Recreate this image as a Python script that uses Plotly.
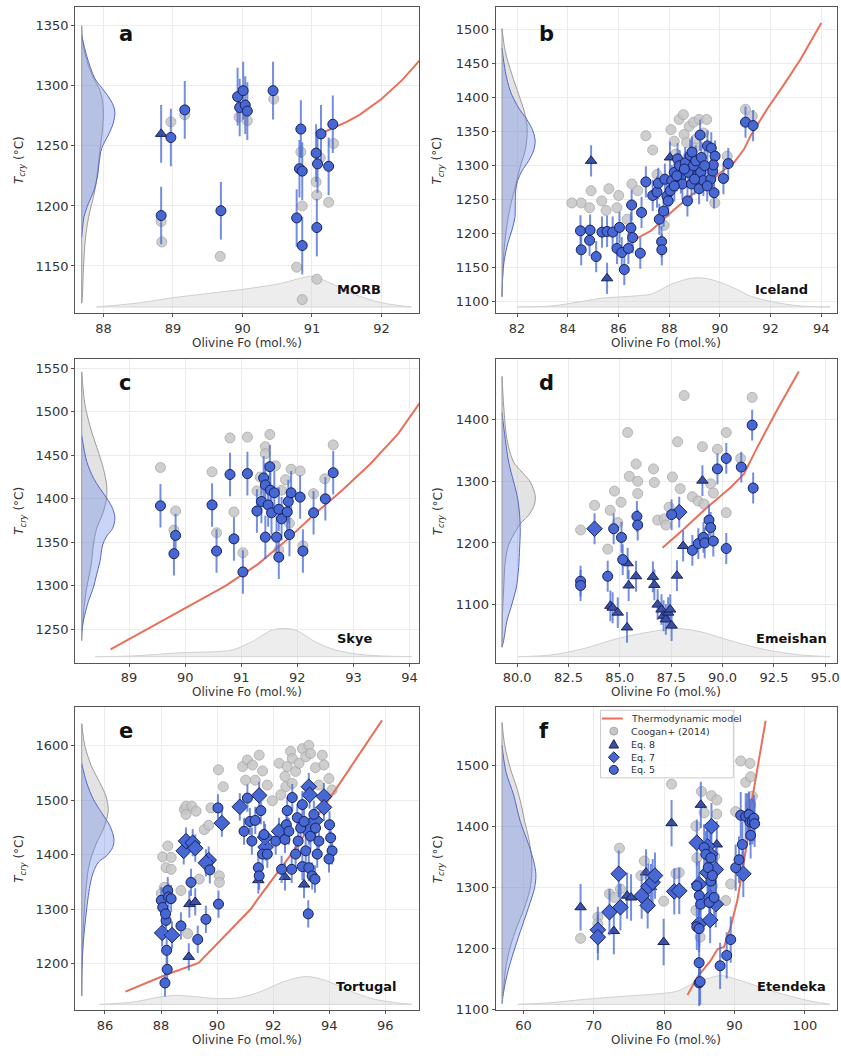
import plotly.graph_objects as go

W, H = 841, 1063

# ---------------- DATA ----------------
# Panel a : MORB
A_EQ5_FO = [88.83, 88.97, 89.17, 89.69, 89.93, 89.96, 90.01, 90.04, 90.07, 90.44, 90.84, 90.82, 90.86, 90.78, 90.86, 91.06, 91.08, 91.13, 91.07, 91.24, 91.30]
A_EQ5_T = [1192, 1257, 1280, 1196, 1291, 1282, 1296, 1284, 1279, 1296, 1264, 1231, 1229, 1190, 1167, 1244, 1235, 1260, 1182, 1233, 1268]
A_EQ7_FO, A_EQ7_T = [], []
A_EQ8_FO = [88.83]
A_EQ8_T = [1260]
A_COO_FO = [88.83, 88.84, 88.97, 89.17, 89.68, 89.95, 90.07, 90.45, 90.78, 90.84, 90.86, 90.86, 91.06, 91.07, 91.07, 91.12, 91.24, 91.31]
A_COO_T = [1187, 1170, 1270, 1276, 1158, 1274, 1271, 1289, 1149, 1245, 1200, 1122, 1220, 1209, 1139, 1240, 1203, 1252]
A_MODEL_FO = [91.19, 91.5, 91.69, 92.0, 92.3, 92.53, 92.8]
A_MODEL_T = [1262, 1270, 1276, 1289, 1305, 1320, 1336]
A_KDE_G_T = [1350, 1333, 1317, 1306, 1296, 1287, 1278, 1265, 1251, 1235, 1218, 1207, 1196, 1185, 1169, 1147, 1125, 1119]
A_KDE_G_D = [0, 1.7, 6.7, 12.3, 18.3, 21, 21.7, 21, 19, 16.7, 14.3, 11.7, 8.3, 5.7, 3.3, 1.7, 0.7, 0]
A_KDE_B_T = [1342, 1325, 1306, 1295, 1285, 1278, 1269, 1259, 1248, 1237, 1224, 1213, 1202, 1191, 1180, 1174]
A_KDE_B_D = [0, 5, 13.3, 23.3, 31, 33.3, 31.7, 26.7, 20, 17.7, 15.7, 12.3, 6.7, 2.3, 0.7, 0]
A_KDE_FO = [87.9, 88.5, 89.0, 89.5, 90.0, 90.5, 90.9, 91.0, 91.3, 91.6, 92.0, 92.43]
A_KDE_FO_D = [0, 4, 9.3, 13.5, 17.7, 23, 30, 31, 23, 13, 4.3, 0]

# Panel b : Iceland
B_EQ5_FO = [84.50, 84.53, 84.86, 84.88, 85.12, 85.35, 85.55, 85.77, 85.94, 86.04, 86.13, 86.23, 86.39, 86.49, 86.56,
            86.52, 86.86, 86.91, 87.08, 87.35, 87.52, 87.57, 87.61, 87.70, 87.71, 87.78, 87.83, 87.91, 87.96, 88.04,
            88.10, 88.20, 88.33, 88.41, 88.46, 88.52, 88.63, 88.72, 88.75, 88.83, 88.88, 88.96, 89.05, 89.11, 89.18,
            89.22, 89.24, 89.27, 89.35, 89.51, 89.66, 89.64, 89.72, 89.77, 89.81, 89.74, 90.14, 90.33, 91.01, 91.31,
            88.30, 88.60, 89.00, 89.40, 88.90, 89.50, 88.20]
B_EQ5_T = [1204, 1176, 1190, 1205, 1166, 1202, 1203, 1202, 1178, 1209, 1172, 1147, 1178, 1208, 1194,
           1242, 1171, 1231, 1276, 1256, 1261, 1274, 1221, 1188, 1176, 1233, 1280, 1255, 1248, 1263,
           1278, 1290, 1310, 1300, 1282, 1273, 1304, 1248, 1290, 1315, 1273, 1300, 1307, 1285, 1266,
           1345, 1290, 1312, 1278, 1329, 1326, 1280, 1292, 1260, 1314, 1301, 1281, 1303, 1364, 1359,
           1285, 1295, 1280, 1300, 1320, 1270, 1270]
B_EQ7_FO, B_EQ7_T = [], []
B_EQ8_FO = [84.92, 85.55, 88.03]
B_EQ8_T = [1307, 1134, 1312]
B_COO_FO = [84.16, 84.53, 84.86, 84.92, 85.34, 85.62, 85.51, 86.01, 85.94, 86.34, 86.53, 86.76, 87.08, 87.35, 87.52,
            87.80, 88.07, 88.20, 88.39, 88.56, 88.59, 88.79, 88.96, 89.18, 89.48, 89.35, 89.05, 88.69, 89.80, 90.29,
            91.01, 91.28, 89.00, 88.26]
B_COO_T = [1245, 1245, 1238, 1263, 1248, 1266, 1234, 1256, 1238, 1221, 1273, 1263, 1344, 1323, 1287,
           1212, 1353, 1336, 1368, 1375, 1346, 1358, 1364, 1368, 1368, 1348, 1339, 1334, 1245, 1314,
           1383, 1373, 1326, 1317]
B_MODEL_FO = [86.69, 87.28, 88.07, 88.85, 89.51, 90.03, 90.55, 90.95, 91.21, 91.86, 92.52, 93.17, 94.0]
B_MODEL_T = [1192, 1204, 1231, 1256, 1273, 1290, 1304, 1324, 1344, 1383, 1419, 1456, 1510]
B_KDE_G_T = [1502, 1468, 1434, 1405, 1380, 1361, 1341, 1322, 1302, 1283, 1263, 1244, 1224, 1205, 1180, 1151, 1107]
B_KDE_G_D = [0, 3.3, 10, 16.7, 22.3, 25, 25, 23.3, 19, 15.7, 12.3, 9, 6.3, 4.3, 2.3, 1, 0]
B_KDE_B_T = [1473, 1439, 1410, 1385, 1368, 1351, 1336, 1322, 1307, 1292, 1278, 1263, 1244, 1224, 1205, 1185, 1161, 1136, 1107]
B_KDE_B_D = [0, 3.3, 8.3, 16.7, 25, 31, 33.3, 31.7, 26.7, 20, 15.7, 13.7, 13.3, 13, 10, 5.7, 2.3, 0.7, 0]
B_KDE_FO = [82.0, 83.35, 84.66, 85.3, 86.6, 87.3, 88.07, 88.98, 89.64, 90.55, 91.2, 92.26, 93.17, 94.35]
B_KDE_FO_D = [0, 1, 6, 8.7, 11, 13, 22.7, 29.3, 27.7, 19.3, 11, 4.3, 1, 0]

# Panel c : Skye
C_EQ5_FO = [89.56, 89.83, 89.80, 90.48, 90.56, 90.80, 90.87, 91.11, 91.03, 91.28, 91.36, 91.40, 91.43, 91.43, 91.48,
            91.51, 91.52, 91.54, 91.59, 91.63, 91.67, 91.67, 91.72, 91.82, 91.84, 91.86, 91.89, 92.05, 92.10, 92.29,
            92.50, 92.64]
C_EQ5_T = [1392, 1358, 1337, 1393, 1340, 1428, 1354, 1429, 1316, 1386, 1397, 1424, 1416, 1356, 1393,
           1437, 1410, 1384, 1407, 1356, 1333, 1388, 1377, 1385, 1397, 1359, 1407, 1402, 1340, 1384,
           1400, 1430]
C_EQ7_FO, C_EQ7_T = [], []
C_EQ8_FO, C_EQ8_T = [], []
C_COO_FO = [89.56, 89.83, 89.80, 90.48, 90.56, 90.80, 90.87, 91.11, 91.03, 91.51, 91.43, 91.43, 91.34, 91.28, 91.61,
            91.67, 91.79, 91.89, 92.05, 92.10, 92.29, 92.49, 92.64, 91.72, 91.86]
C_COO_T = [1436, 1386, 1364, 1431, 1361, 1470, 1385, 1471, 1338, 1474, 1460, 1452, 1425, 1409, 1438,
           1341, 1422, 1434, 1432, 1346, 1406, 1423, 1462, 1410, 1372]
C_MODEL_FO = [88.67, 90.72, 91.3, 91.8, 92.3, 92.8, 93.3, 93.8, 94.3]
C_MODEL_T = [1227, 1300, 1325, 1352, 1382, 1410, 1440, 1475, 1521]
C_KDE_G_T = [1546, 1508, 1477, 1454, 1435, 1416, 1401, 1385, 1366, 1347, 1328, 1313, 1298, 1275, 1256, 1237]
C_KDE_G_D = [0, 3.3, 10, 16.7, 21.7, 25, 25, 21.7, 15, 11.7, 10, 7.7, 5, 2.3, 1, 0]
C_KDE_B_T = [1473, 1443, 1424, 1412, 1401, 1389, 1378, 1366, 1357, 1347, 1328, 1313, 1298, 1282, 1263, 1248]
C_KDE_B_D = [0, 5, 11.7, 18.3, 25, 31, 33.3, 31, 25, 21, 18.3, 15, 11.7, 6.7, 2.3, 0]
C_KDE_FO = [88.4, 89.06, 89.95, 90.54, 90.84, 91.19, 91.55, 91.73, 91.97, 92.32, 92.68, 93.21, 94.04]
C_KDE_FO_D = [0, 0.7, 4, 5, 6.7, 15, 26.7, 28.3, 26.7, 15, 6.7, 1.7, 0]

# Panel d : Emeishan
D_EQ5_FO = [83.09, 83.09, 84.41, 84.70, 85.08, 85.14, 85.83, 85.87, 87.52, 88.53, 88.82, 89.07, 89.13, 89.34, 89.42,
            89.55, 89.75, 90.18, 90.18, 90.91, 91.44, 91.49]
D_EQ5_T = [1138, 1131, 1146, 1223, 1209, 1173, 1243, 1229, 1246, 1188, 1199, 1209, 1200, 1237, 1225,
           1203, 1320, 1337, 1191, 1323, 1391, 1289]
D_EQ7_FO = [83.77, 87.89]
D_EQ7_T = [1223, 1250]
D_EQ8_FO = [84.54, 84.65, 84.90, 85.35, 85.38, 85.43, 85.79, 86.61, 86.68, 86.84, 87.03, 87.13, 87.24, 87.35, 87.45,
            87.52, 87.78, 88.08, 89.02]
D_EQ8_T = [1098, 1095, 1087, 1063, 1167, 1131, 1146, 1145, 1132, 1100, 1092, 1082, 1076, 1087, 1092,
           1066, 1147, 1195, 1301]
D_COO_FO = [83.09, 83.77, 84.41, 84.53, 84.74, 85.06, 84.90, 85.38, 85.46, 85.79, 85.87, 85.87, 86.64, 86.68, 86.84,
            87.16, 87.24, 87.56, 87.81, 87.94, 87.40, 88.13, 88.53, 88.81, 89.02, 89.10, 89.42, 89.55, 89.75, 90.18,
            90.18, 90.88, 91.44]
D_COO_T = [1221, 1261, 1190, 1253, 1284, 1266, 1233, 1379, 1308, 1328, 1300, 1280, 1320, 1298, 1237,
           1239, 1229, 1307, 1364, 1288, 1258, 1439, 1275, 1268, 1356, 1263, 1296, 1281, 1352, 1379,
           1249, 1337, 1436]
D_MODEL_FO = [87.08, 88.13, 89.26, 90.39, 91.04, 91.69, 92.66, 93.71]
D_MODEL_T = [1192, 1223, 1258, 1290, 1312, 1355, 1416, 1478]
D_KDE_G_T = [1470, 1422, 1368, 1331, 1315, 1299, 1277, 1261, 1245, 1234, 1218, 1197, 1170, 1127, 1085, 1031]
D_KDE_G_D = [0, 1.7, 5, 11.7, 20, 28.3, 33.3, 32.3, 26.7, 20, 13.3, 6.7, 3.3, 1.7, 0.5, 0]
D_KDE_B_T = [1411, 1368, 1331, 1299, 1272, 1245, 1218, 1192, 1160, 1127, 1101, 1074, 1042, 1031]
D_KDE_B_D = [0, 3.3, 6.7, 11.7, 15.7, 17.7, 18.3, 17.7, 16.7, 14.3, 10, 5, 1.7, 0]
D_KDE_FO = [80.05, 81.66, 83.28, 84.9, 86.5, 87.8, 88.94, 90.55, 92.17, 93.8, 95.24]
D_KDE_FO_D = [0, 1.7, 8.3, 18.3, 25, 28.3, 25, 15, 6.7, 1.7, 0]

# Panel e : Tortugal
E_EQ5_FO = [88.01, 88.06, 88.24, 88.27, 88.18, 88.20, 88.22, 88.14, 88.36, 88.16, 88.71, 89.07, 89.31, 89.60, 89.74,
            90.03, 90.05, 90.96, 91.08, 91.17, 91.24, 91.36, 91.47, 91.50, 91.56, 91.62, 91.67, 91.79, 92.09, 92.30,
            92.42, 92.47, 92.50, 92.56, 92.66, 92.68, 92.80, 92.86, 92.89, 92.98, 93.04, 93.04, 93.10, 93.16, 93.25,
            93.27, 93.33, 93.39, 93.45, 93.49, 93.51, 93.57, 93.63, 94.01, 94.05, 94.10, 93.99]
E_EQ5_T = [1316, 1303, 1334, 1322, 1279, 1224, 1189, 1164, 1319, 1291, 1269, 1349, 1244, 1281, 1372,
           1486, 1309, 1443, 1504, 1461, 1425, 1463, 1376, 1361, 1481, 1401, 1437, 1401, 1425, 1373,
           1428, 1455, 1481, 1443, 1373, 1505, 1401, 1468, 1425, 1449, 1492, 1378, 1461, 1407, 1291,
           1376, 1434, 1361, 1474, 1355, 1449, 1401, 1425, 1455, 1431, 1407, 1392]
E_EQ7_FO = [88.04, 88.39, 88.81, 88.89, 89.13, 89.22, 89.70, 89.60, 90.17, 90.81, 91.50, 91.73, 91.71, 92.21, 93.27,
            93.30, 93.81, 93.81, 93.51, 93.27]
E_EQ7_T = [1256, 1252, 1407, 1425, 1422, 1412, 1390, 1385, 1458, 1488, 1509, 1414, 1432, 1443, 1525,
           1510, 1507, 1487, 1463, 1443]
E_EQ8_FO = [89.01, 89.22, 88.99, 91.47, 92.42, 93.10]
E_EQ8_T = [1309, 1313, 1212, 1353, 1359, 1345]
E_COO_FO = [88.01, 88.24, 88.06, 88.36, 88.18, 88.36, 88.12, 88.71, 88.83, 88.89, 89.10, 89.25, 88.89, 88.95, 89.36,
            89.54, 89.70, 89.78, 90.05, 90.08, 90.08, 90.22, 90.91, 91.08, 91.26, 91.50, 91.36, 91.02, 91.62, 91.79,
            91.97, 92.21, 92.42, 92.50, 92.62, 92.68, 92.80, 92.92, 93.04, 93.16, 93.27, 93.33, 93.51, 93.63, 93.75,
            93.81, 93.99, 94.10, 92.45, 92.68, 92.27]
E_COO_T = [1329, 1416, 1396, 1395, 1376, 1373, 1340, 1334, 1483, 1489, 1489, 1480, 1474, 1255, 1355,
           1446, 1454, 1486, 1556, 1361, 1349, 1525, 1562, 1574, 1565, 1583, 1537, 1537, 1554, 1528,
           1499, 1568, 1544, 1562, 1590, 1577, 1553, 1568, 1595, 1580, 1601, 1586, 1560, 1528, 1583,
           1565, 1540, 1519, 1525, 1531, 1510]
E_MODEL_FO = [86.73, 88.18, 89.34, 91.20, 91.50, 92.56, 94.10, 95.88]
E_MODEL_T = [1148, 1179, 1201, 1300, 1322, 1395, 1510, 1647]
E_KDE_G_T = [1641, 1599, 1562, 1532, 1508, 1483, 1465, 1447, 1422, 1398, 1374, 1337, 1289, 1240, 1191, 1140]
E_KDE_G_D = [0, 3.3, 10, 18.3, 24.3, 26.7, 25, 21.7, 15, 10, 6.7, 4.3, 2.3, 1, 0.3, 0]
E_KDE_B_T = [1568, 1532, 1502, 1477, 1453, 1429, 1413, 1398, 1386, 1368, 1350, 1325, 1289, 1240, 1191, 1140]
E_KDE_B_D = [0, 5, 11.7, 20, 28.3, 32.3, 31, 25, 16.7, 11.7, 9, 6.7, 4.3, 1.7, 0.3, 0]
E_KDE_FO = [85.8, 87.0, 87.94, 88.5, 89.36, 89.96, 90.79, 91.5, 92.33, 93.16, 93.87, 94.7, 95.53, 96.47, 96.95]
E_KDE_FO_D = [0, 2.3, 7.3, 9, 7.3, 5.7, 6.7, 12.3, 22.3, 28, 24, 14, 5.7, 1.3, 0]

# Panel f : Etendeka
F_EQ5_FO = [84.98, 85.12, 84.98, 84.65, 85.0, 85.2, 84.65, 84.98, 85.69, 85.93, 86.26, 86.64, 86.64, 86.87, 86.40,
            87.11, 87.96, 88.90, 89.47, 90.18, 90.65, 91.12, 90.89, 91.60, 92.07, 92.21, 92.54, 92.30, 92.77, 92.87]
F_EQ5_T = [1144, 1146, 1177, 1303, 1287, 1273, 1236, 1233, 1366, 1355, 1333, 1349, 1311, 1320, 1276,
           1284, 1172, 1189, 1215, 1333, 1346, 1371, 1419, 1417, 1420, 1408, 1409, 1386, 1414, 1405]
F_EQ7_FO = [70.58, 70.58, 72.23, 73.79, 73.55, 76.81, 77.66, 77.76, 78.37, 78.70, 81.44, 82.15, 84.65, 84.98, 84.98,
            86.16, 86.73, 86.16, 86.54, 87.35, 87.35, 86.54, 86.54, 91.26, 91.83]
F_EQ7_T = [1231, 1219, 1260, 1268, 1323, 1287, 1271, 1302, 1309, 1320, 1294, 1295, 1374, 1241, 1306,
           1368, 1401, 1325, 1355, 1330, 1273, 1284, 1247, 1323, 1417]
F_EQ8_FO = [68.12, 72.85, 74.73, 75.30, 77.43, 78.13, 79.93, 81.06, 85.22, 87.49, 86.16]
F_EQ8_T = [1268, 1229, 1287, 1284, 1325, 1301, 1211, 1406, 1436, 1371, 1365]
F_COO_FO = [68.12, 70.58, 70.58, 72.23, 72.94, 73.65, 73.79, 77.19, 76.71, 79.93, 81.06, 81.68, 82.15, 84.51, 84.65,
            84.51, 85.12, 85.31, 85.69, 86.73, 87.49, 86.87, 87.20, 88.76, 89.47, 90.18, 90.89, 92.21, 91.60, 92.30,
            92.54, 92.30, 87.49]
F_COO_T = [1217, 1252, 1241, 1290, 1284, 1365, 1298, 1344, 1320, 1278, 1470, 1323, 1325, 1401, 1349,
           1263, 1219, 1458, 1423, 1451, 1444, 1303, 1352, 1279, 1306, 1425, 1508, 1504, 1473, 1482,
           1450, 1436, 1421]
F_MODEL_FO = [83.33, 84.75, 86.64, 87.58, 88.52, 89.47, 90.41, 91.12, 91.83, 92.30, 93.25, 94.43]
F_MODEL_T = [1124, 1154, 1181, 1199, 1203, 1236, 1279, 1328, 1376, 1431, 1496, 1574]
F_KDE_G_T = [1571, 1534, 1496, 1463, 1436, 1409, 1382, 1355, 1328, 1300, 1268, 1236, 1203, 1171, 1138, 1122]
F_KDE_G_D = [0, 2.7, 8.3, 15, 19.3, 22.7, 26.7, 29.3, 30, 28.3, 22.7, 15, 8.3, 4, 1.7, 0]
F_KDE_B_T = [1534, 1490, 1452, 1409, 1371, 1344, 1322, 1300, 1268, 1236, 1203, 1171, 1144, 1122, 1110]
F_KDE_B_D = [0, 4, 11.7, 18.3, 26.7, 31.7, 34, 32.7, 26.7, 20, 13.3, 7.3, 3.3, 1, 0]
F_KDE_FO = [59.2, 63.97, 68.7, 73.4, 78.1, 81.9, 84.3, 86.6, 88.05, 90.4, 93.25, 97.0, 100.8, 103.6]
F_KDE_FO_D = [0, 1.7, 5, 7.7, 10, 13.3, 21.7, 26.7, 29, 25, 18.3, 10, 3.3, 0]

ERR_T = [24, 23, 25, 25, 25, 38]          # 1-sigma uncertainty on T (°C)
LETTERS = ["a", "b", "c", "d", "e", "f"]
SITES = ["MORB", "Iceland", "Skye", "Emeishan", "Tortugal", "Etendeka"]
LEGEND_LABELS = ["Thermodynamic model", "Coogan+ (2014)", "Eq. 8", "Eq. 7", "Eq. 5"]

PANELS = [
    (A_EQ5_FO, A_EQ5_T, A_EQ7_FO, A_EQ7_T, A_EQ8_FO, A_EQ8_T, A_COO_FO, A_COO_T, A_MODEL_FO, A_MODEL_T,
     A_KDE_G_T, A_KDE_G_D, A_KDE_B_T, A_KDE_B_D, A_KDE_FO, A_KDE_FO_D),
    (B_EQ5_FO, B_EQ5_T, B_EQ7_FO, B_EQ7_T, B_EQ8_FO, B_EQ8_T, B_COO_FO, B_COO_T, B_MODEL_FO, B_MODEL_T,
     B_KDE_G_T, B_KDE_G_D, B_KDE_B_T, B_KDE_B_D, B_KDE_FO, B_KDE_FO_D),
    (C_EQ5_FO, C_EQ5_T, C_EQ7_FO, C_EQ7_T, C_EQ8_FO, C_EQ8_T, C_COO_FO, C_COO_T, C_MODEL_FO, C_MODEL_T,
     C_KDE_G_T, C_KDE_G_D, C_KDE_B_T, C_KDE_B_D, C_KDE_FO, C_KDE_FO_D),
    (D_EQ5_FO, D_EQ5_T, D_EQ7_FO, D_EQ7_T, D_EQ8_FO, D_EQ8_T, D_COO_FO, D_COO_T, D_MODEL_FO, D_MODEL_T,
     D_KDE_G_T, D_KDE_G_D, D_KDE_B_T, D_KDE_B_D, D_KDE_FO, D_KDE_FO_D),
    (E_EQ5_FO, E_EQ5_T, E_EQ7_FO, E_EQ7_T, E_EQ8_FO, E_EQ8_T, E_COO_FO, E_COO_T, E_MODEL_FO, E_MODEL_T,
     E_KDE_G_T, E_KDE_G_D, E_KDE_B_T, E_KDE_B_D, E_KDE_FO, E_KDE_FO_D),
    (F_EQ5_FO, F_EQ5_T, F_EQ7_FO, F_EQ7_T, F_EQ8_FO, F_EQ8_T, F_COO_FO, F_COO_T, F_MODEL_FO, F_MODEL_T,
     F_KDE_G_T, F_KDE_G_D, F_KDE_B_T, F_KDE_B_D, F_KDE_FO, F_KDE_FO_D),
]

# ---------------- LAYOUT (pixels) ----------------
BOX = [(75.5, 420.5, 7.5, 315), (497.3, 840, 7.5, 315),
       (75.5, 420.5, 361.5, 667), (497.3, 840, 361.5, 667),
       (75.5, 420.5, 712, 1017), (497.3, 840, 712, 1017)]
XR = [(87.594, 92.54), (81.15, 94.62), (88.04, 94.17), (78.95, 95.57), (84.94, 97.2), (56.03, 104.58)]
YR = [(1110.9, 1365.3), (1083, 1533), (1211.8, 1560.6), (1006, 1498), (1113.7, 1671), (1099, 1596)]
XTICK = [(88, 1, None), (82, 2, None), (89, 1, None), (80, 2.5, ".1f"), (86, 2, None), (60, 10, None)]
YTICK = [(1150, 50), (1100, 50), (1250, 50), (1100, 100), (1200, 100), (1100, 100)]
LETTER_XY = [(117, 34), (539, 34), (117, 386), (539, 386), (117, 736), (539, 736)]
SITE_XY = [(384, 291), (813, 291), (375, 643), (832, 643), (400, 993), (831, 993)]
XTITLE_Y = [345, 345, 697, 697, 1047, 1047]
YTITLE_X = [20, 440, 20, 440, 20, 440]
LEG_BOX = (602.7, 736, 715, 783)
LEG_ROWS = [723.3, 736, 749, 762.3, 775]
LEG_SYM_X = 616
LEG_TEXT_X = 631

BLUE = "#4767d3"
EDGE = "#18215e"
TRI = "#3c50a3"
GREY = "#c6c6c6"
RED = "#e8705a"
FONT = "DejaVu Sans"


def px(x):
    return x / W


def py(y):
    return 1 - y / H


fig = go.Figure()
annotations = []
shapes = []

for i, P in enumerate(PANELS):
    (e5x, e5y, e7x, e7y, e8x, e8y, cx, cy, mx, my, kgt, kgd, kbt, kbd, kfx, kfd) = P
    s = "" if i == 0 else str(i + 1)
    xa, ya = "x" + s, "y" + s
    l, r, t, b = BOX[i]
    x0, x1 = XR[i]
    y0, y1 = YR[i]
    sx = (x1 - x0) / (r - l)
    sy = (y1 - y0) / (b - t)

    # bottom KDE (Fo distribution)
    fig.add_trace(go.Scatter(
        x=kfx, y=[y0 + (6 + d) * sy for d in kfd], xaxis=xa, yaxis=ya, mode="lines",
        line=dict(color="#cfcfcf", width=1, shape="spline", smoothing=0.9),
        fill="toself", fillcolor="rgba(215,215,215,0.45)", showlegend=False, hoverinfo="skip"))
    fig.add_trace(go.Scatter(
        x=[kfx[0], kfx[-1]], y=[y0 + 6 * sy] * 2, xaxis=xa, yaxis=ya, mode="lines",
        line=dict(color="#d5d5d5", width=1), showlegend=False, hoverinfo="skip"))

    # left KDEs (T distributions)
    fig.add_trace(go.Scatter(
        x=[x0 + (6.5 + d) * sx for d in kgd], y=kgt, xaxis=xa, yaxis=ya, mode="lines",
        line=dict(color="#9a9a9a", width=1, shape="spline", smoothing=0.9),
        fill="toself", fillcolor="rgba(175,175,175,0.35)", showlegend=False, hoverinfo="skip"))
    fig.add_trace(go.Scatter(
        x=[x0 + (6.5 + d) * sx for d in kbd], y=kbt, xaxis=xa, yaxis=ya, mode="lines",
        line=dict(color="#5468c8", width=1, shape="spline", smoothing=0.9),
        fill="toself", fillcolor="rgba(95,125,230,0.33)", showlegend=False, hoverinfo="skip"))
    fig.add_trace(go.Scatter(
        x=[x0 + 6.5 * sx] * 2, y=[max(kgt + kbt), min(kgt + kbt)], xaxis=xa, yaxis=ya, mode="lines",
        line=dict(color="#9a9a9a", width=1), showlegend=False, hoverinfo="skip"))

    # Coogan+ (2014)
    fig.add_trace(go.Scatter(
        x=cx, y=cy, xaxis=xa, yaxis=ya, mode="markers", name="Coogan+ (2014)",
        marker=dict(symbol="circle", size=10, color=GREY, opacity=0.85, line=dict(color="#a9a9a9", width=1)),
        showlegend=False))
    # thermodynamic model
    fig.add_trace(go.Scatter(
        x=mx, y=my, xaxis=xa, yaxis=ya, mode="lines", name="Thermodynamic model",
        line=dict(color=RED, width=2), showlegend=False))
    err = dict(type="constant", value=ERR_T[i], color="rgba(70,105,215,0.75)", thickness=2, width=0)
    if e8x:
        fig.add_trace(go.Scatter(
            x=e8x, y=e8y, xaxis=xa, yaxis=ya, mode="markers", name="Eq. 8", error_y=err,
            marker=dict(symbol="triangle-up", size=10, color=TRI, line=dict(color=EDGE, width=1)),
            showlegend=False))
    if e7x:
        fig.add_trace(go.Scatter(
            x=e7x, y=e7y, xaxis=xa, yaxis=ya, mode="markers", name="Eq. 7", error_y=err,
            marker=dict(symbol="diamond", size=12, color=BLUE, line=dict(color=EDGE, width=1)),
            showlegend=False))
    fig.add_trace(go.Scatter(
        x=e5x, y=e5y, xaxis=xa, yaxis=ya, mode="markers", name="Eq. 5", error_y=err,
        marker=dict(symbol="circle", size=10, color=BLUE, line=dict(color=EDGE, width=1)),
        showlegend=False))

    t0, dt, fmt = XTICK[i]
    axis_common = dict(showline=True, linecolor="#555555", linewidth=1, mirror=True,
                       ticks="outside", ticklen=3, tickcolor="#555555",
                       tickfont=dict(family=FONT, size=13, color="#333333"),
                       ticklabeloverflow="allow",
                       showgrid=True, gridcolor="#ebebeb", gridwidth=1, zeroline=False)
    fig.layout["xaxis" + s] = dict(axis_common, domain=[px(l), px(r)], range=[x0, x1], anchor=ya,
                                   tick0=t0, dtick=dt, tickformat=fmt)
    yt0, ydt = YTICK[i]
    fig.layout["yaxis" + s] = dict(axis_common, domain=[py(b), py(t)], range=[y0, y1], anchor=xa,
                                   tick0=yt0, dtick=ydt)

    lx, ly = LETTER_XY[i]
    annotations.append(dict(x=px(lx), y=py(ly), xref="paper", yref="paper", text="<b>" + LETTERS[i] + "</b>",
                            showarrow=False, xanchor="left", yanchor="middle",
                            font=dict(family=FONT, size=21, color="#111111")))
    tx, ty = SITE_XY[i]
    annotations.append(dict(x=px(tx), y=py(ty), xref="paper", yref="paper", text="<b>" + SITES[i] + "</b>",
                            showarrow=False, xanchor="right", yanchor="middle",
                            font=dict(family=FONT, size=13, color="#111111")))
    annotations.append(dict(x=px((l + r) / 2), y=py(XTITLE_Y[i]), xref="paper", yref="paper",
                            text="Olivine Fo (mol.%)", showarrow=False, xanchor="center", yanchor="middle",
                            font=dict(family=FONT, size=12, color="#333333")))
    annotations.append(dict(x=px(YTITLE_X[i]), y=py((t + b) / 2), xref="paper", yref="paper",
                            text="<i>T</i><sub><i>cry</i></sub> (°C)", showarrow=False, textangle=-90,
                            xanchor="center", yanchor="middle",
                            font=dict(family=FONT, size=12, color="#333333")))

# ---------------- custom compact legend (panel f) ----------------
lb = LEG_BOX
shapes.append(dict(type="rect", xref="paper", yref="paper", x0=px(lb[0]), x1=px(lb[1]), y0=py(lb[3]), y1=py(lb[2]),
                   fillcolor="rgba(255,255,255,0.85)", line=dict(color="#cccccc", width=1), layer="above"))
cxl = LEG_SYM_X
r0, r1, r2, r3, r4 = LEG_ROWS
shapes.append(dict(type="line", xref="paper", yref="paper", x0=px(cxl - 12), x1=px(cxl + 9), y0=py(r0), y1=py(r0),
                   line=dict(color=RED, width=2), layer="above"))
shapes.append(dict(type="circle", xref="paper", yref="paper", x0=px(cxl - 4), x1=px(cxl + 4),
                   y0=py(r1 + 4), y1=py(r1 - 4), fillcolor=GREY, line=dict(color="#a9a9a9", width=1), layer="above"))
shapes.append(dict(type="path", xref="paper", yref="paper",
                   path="M {},{} L {},{} L {},{} Z".format(px(cxl), py(r2 - 4.5), px(cxl + 4.8), py(r2 + 4),
                                                           px(cxl - 4.8), py(r2 + 4)),
                   fillcolor=TRI, line=dict(color=EDGE, width=1), layer="above"))
shapes.append(dict(type="path", xref="paper", yref="paper",
                   path="M {},{} L {},{} L {},{} L {},{} Z".format(px(cxl), py(r3 - 5.5), px(cxl + 5.5), py(r3),
                                                                   px(cxl), py(r3 + 5.5), px(cxl - 5.5), py(r3)),
                   fillcolor=BLUE, line=dict(color=EDGE, width=1), layer="above"))
shapes.append(dict(type="circle", xref="paper", yref="paper", x0=px(cxl - 4.5), x1=px(cxl + 4.5),
                   y0=py(r4 + 4.5), y1=py(r4 - 4.5), fillcolor=BLUE, line=dict(color=EDGE, width=1), layer="above"))
for lab, ry in zip(LEGEND_LABELS, LEG_ROWS):
    annotations.append(dict(x=px(LEG_TEXT_X), y=py(ry), xref="paper", yref="paper", text=lab,
                            showarrow=False, xanchor="left", yanchor="middle",
                            font=dict(family=FONT, size=9.5, color="#333333")))

fig.update_layout(
    width=W, height=H, margin=dict(l=0, r=0, t=0, b=0),
    paper_bgcolor="white", plot_bgcolor="white",
    annotations=annotations, shapes=shapes, showlegend=False,
)

fig.write_html("out.html", config={"displayModeBar": False},
               post_script="document.body.style.margin='0px';document.body.style.overflow='hidden';")
